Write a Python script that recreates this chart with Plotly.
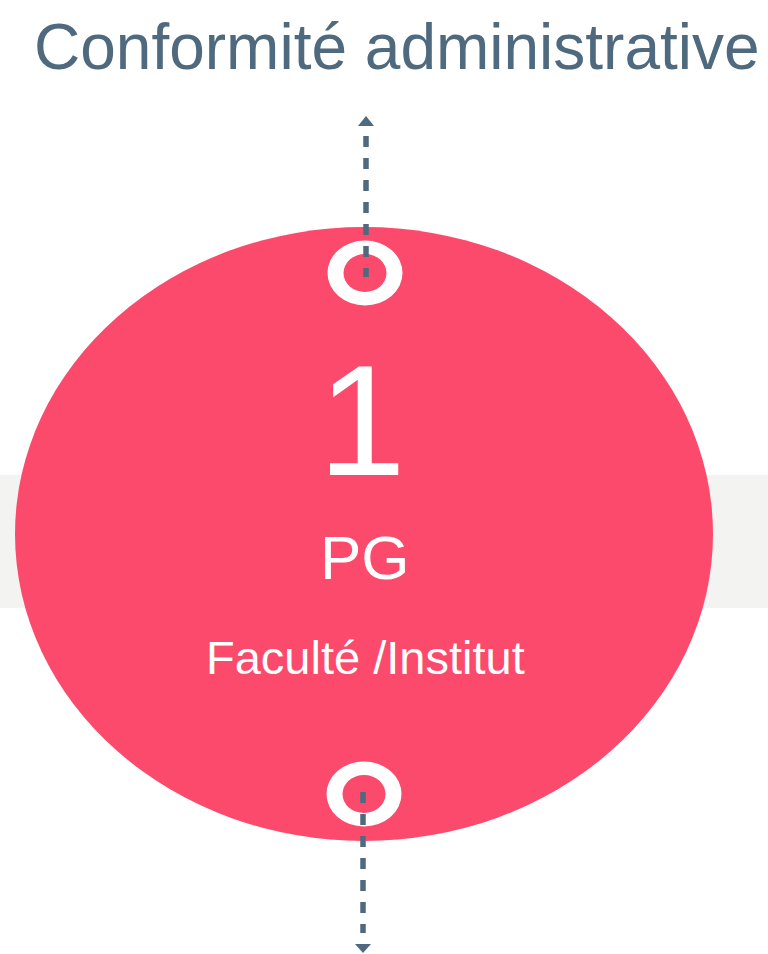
import plotly.graph_objects as go

# ---- content ----
title_text = ["Conformité administrative"]
step_number = ["1"]
step_code = ["PG"]
step_unit = ["Faculté /Institut"]

W, H = 768, 954
PINK = "#FB4A6B"
SLATE = "#4F6A7E"
BAND = "#F3F4F2"

fig = go.Figure()

shapes = []
# grey band
shapes.append(dict(type="rect", x0=0, x1=768, y0=475, y1=608, fillcolor=BAND, line_width=0, layer="below"))
# big ellipse
shapes.append(dict(type="circle", x0=15, x1=713, y0=227, y1=841, fillcolor=PINK, line_width=0))
# rings
for cx, cy in [(365, 273), (364, 794)]:
    shapes.append(dict(type="circle", x0=cx - 37.5, x1=cx + 37.5, y0=cy - 32.5, y1=cy + 32.5, fillcolor="white", line_width=0))
    shapes.append(dict(type="circle", x0=cx - 21.5, x1=cx + 21.5, y0=cy - 19, y1=cy + 19, fillcolor=PINK, line_width=0))
# dashed connectors
shapes.append(dict(type="line", x0=366, x1=366, y0=136, y1=277, line=dict(color=SLATE, width=5.5, dash="11px,11px")))
shapes.append(dict(type="line", x0=363, x1=363, y0=792, y1=933, line=dict(color=SLATE, width=5.5, dash="11px,11px")))
# arrowheads
shapes.append(dict(type="path", path="M 358 126 L 374 126 L 366 116 Z", fillcolor=SLATE, line_width=0))
shapes.append(dict(type="path", path="M 355 944 L 371 944 L 363 953 Z", fillcolor=SLATE, line_width=0))

FONT = "Liberation Sans, Arial, sans-serif"
annotations = [
    dict(x=397, y=47, text=title_text[0], font=dict(size=64, color=SLATE, family=FONT)),
    dict(x=362, y=420, text=step_number[0], font=dict(size=158, color="white", family=FONT)),
    dict(x=365, y=557, text=step_code[0], font=dict(size=62, color="white", family=FONT)),
    dict(x=365, y=657, text=step_unit[0], font=dict(size=47, color="white", family=FONT)),
]
for a in annotations:
    a.update(xref="x", yref="y", showarrow=False, xanchor="center", yanchor="middle")

fig.update_layout(
    width=W, height=H,
    margin=dict(l=0, r=0, t=0, b=0),
    paper_bgcolor="white", plot_bgcolor="white",
    xaxis=dict(range=[0, W], visible=False, fixedrange=True),
    yaxis=dict(range=[H, 0], visible=False, fixedrange=True),
    shapes=shapes, annotations=annotations, showlegend=False,
)
fig.write_html(
    "out.html",
    config={"displayModeBar": False},
    post_script="document.body.style.margin='0px';document.body.style.padding='0px';document.body.style.overflow='hidden';",
)
